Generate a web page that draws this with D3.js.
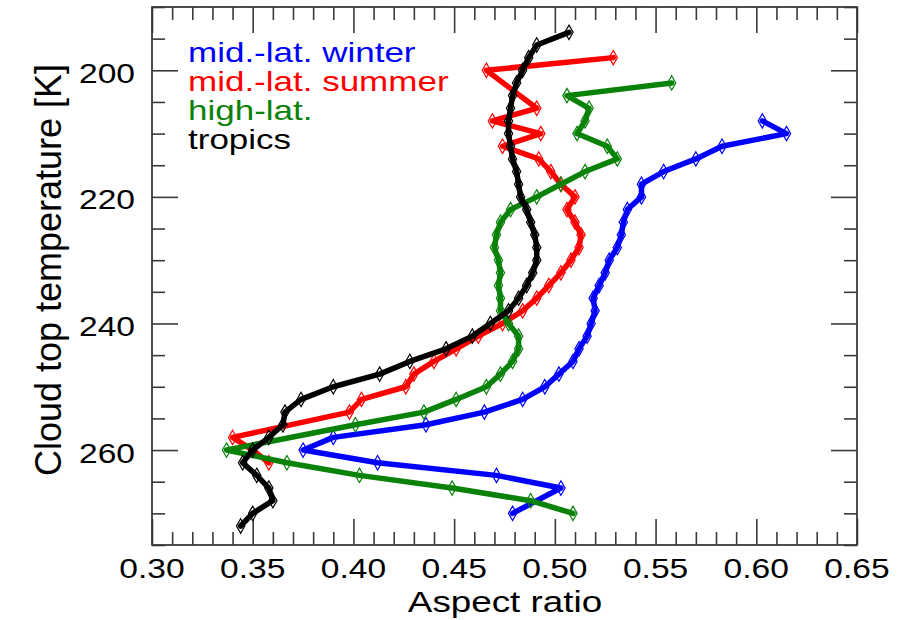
<!DOCTYPE html>
<html>
<head>
<meta charset="utf-8">
<script src="https://cdn.jsdelivr.net/npm/d3@7"></script>
<style>
  body { margin: 0; background: #fff; }
  text { font-family: "Liberation Sans", Arial, Helvetica, sans-serif; }
</style>
</head>
<body>
<div id="chart"></div>
<script>
// cloud top temperature [K] vs aspect ratio, one pair of arrays per region
const winterT  = [208, 210, 212, 214, 216, 218, 220, 222, 224, 226, 228, 230, 232, 234, 236, 238, 240, 242, 244, 246, 248, 250, 252, 254, 256, 258, 260, 262, 264, 266, 270];
const winterAR = [0.603, 0.615, 0.583, 0.570, 0.554, 0.543, 0.543, 0.536, 0.534, 0.533, 0.531, 0.527, 0.525, 0.522, 0.519, 0.520, 0.518, 0.516, 0.512, 0.509, 0.502, 0.495, 0.484, 0.465, 0.436, 0.390, 0.375, 0.412, 0.471, 0.503, 0.479];

const summerT  = [198, 200, 206, 208, 210, 212, 214, 216, 218, 220, 222, 224, 226, 228, 230, 232, 234, 236, 238, 240, 242, 244, 246, 248, 250, 252, 254, 258, 260, 262];
const summerAR = [0.529, 0.466, 0.491, 0.469, 0.493, 0.474, 0.492, 0.498, 0.503, 0.510, 0.506, 0.510, 0.513, 0.512, 0.508, 0.503, 0.497, 0.491, 0.484, 0.474, 0.462, 0.451, 0.440, 0.430, 0.426, 0.404, 0.398, 0.340, 0.350, 0.358];

const highT  = [202, 204, 206, 208, 210, 212, 214, 216, 218, 220, 222, 224, 226, 228, 230, 232, 234, 236, 238, 240, 242, 244, 246, 248, 250, 252, 254, 256, 260, 262, 264, 266, 268, 270];
const highAR = [0.558, 0.506, 0.517, 0.515, 0.511, 0.526, 0.531, 0.515, 0.503, 0.491, 0.478, 0.473, 0.471, 0.470, 0.472, 0.473, 0.472, 0.473, 0.473, 0.477, 0.482, 0.482, 0.479, 0.473, 0.466, 0.451, 0.435, 0.401, 0.337, 0.367, 0.403, 0.449, 0.488, 0.509];

const tropT  = [194, 196, 198, 200, 202, 204, 206, 208, 210, 212, 214, 216, 218, 220, 222, 224, 226, 228, 230, 232, 234, 236, 238, 240, 242, 244, 246, 248, 250, 252, 254, 256, 258, 260, 262, 264, 266, 268, 270, 272];
const tropAR = [0.507, 0.491, 0.487, 0.484, 0.481, 0.479, 0.478, 0.477, 0.477, 0.478, 0.479, 0.481, 0.482, 0.483, 0.486, 0.488, 0.490, 0.491, 0.491, 0.489, 0.486, 0.482, 0.477, 0.468, 0.459, 0.446, 0.428, 0.413, 0.390, 0.374, 0.366, 0.365, 0.358, 0.350, 0.345, 0.352, 0.358, 0.360, 0.350, 0.344];

const seriesNames  = ["mid.-lat. winter", "mid.-lat. summer", "high-lat.", "tropics"];
const seriesColors = ["#0000ff", "#ff0000", "#0a820a", "#000000"];

const xMajor = [0.30, 0.35, 0.40, 0.45, 0.50, 0.55, 0.60, 0.65];
const yMajor = [200, 220, 240, 260];

const W = 918, H = 620;
const pLeft = 152, pRight = 857, pTop = 7, pBottom = 545;

const svg = d3.select("#chart").append("svg")
    .attr("width", W)
    .attr("height", H);

const x = d3.scaleLinear().domain([0.30, 0.65]).range([pLeft, pRight]);
const y = d3.scaleLinear().domain([190, 275]).range([pTop, pBottom]);

const xMinor = d3.range(30, 66).filter(d => d % 5 != 0).map(d => d / 100);
const yMinor = d3.range(190, 276, 5).filter(d => d % 20 != 0);

const axisColor = "#3a3a3a";

function tickAxis(axis, tx, ty) {
    const g = svg.append("g")
        .attr("transform", `translate(${tx},${ty})`)
        .call(axis);
    g.select(".domain").remove();
    g.selectAll("text").remove();
    g.selectAll("line").attr("stroke", axisColor).attr("stroke-width", 1.6);
}

// ticks point inward on all four sides
tickAxis(d3.axisTop(x).tickValues(xMajor).tickSize(26), 0, pBottom);
tickAxis(d3.axisTop(x).tickValues(xMinor).tickSize(13), 0, pBottom);
tickAxis(d3.axisBottom(x).tickValues(xMajor).tickSize(26), 0, pTop);
tickAxis(d3.axisBottom(x).tickValues(xMinor).tickSize(13), 0, pTop);
tickAxis(d3.axisRight(y).tickValues(yMajor).tickSize(26), pLeft, 0);
tickAxis(d3.axisRight(y).tickValues(yMinor).tickSize(13), pLeft, 0);
tickAxis(d3.axisLeft(y).tickValues(yMajor).tickSize(26), pRight, 0);
tickAxis(d3.axisLeft(y).tickValues(yMinor).tickSize(13), pRight, 0);

svg.append("rect")
    .attr("x", pLeft).attr("y", pTop)
    .attr("width", pRight - pLeft).attr("height", pBottom - pTop)
    .attr("fill", "none")
    .attr("stroke", axisColor)
    .attr("stroke-width", 1.8);

// the original font is wider than Liberation Sans, so stretch a little
function label(tx, ty, str, size, anchor, sx, color) {
    svg.append("text")
        .attr("transform", `translate(${tx},${ty}) scale(${sx},1)`)
        .attr("text-anchor", anchor)
        .attr("font-size", size)
        .attr("fill", color || "#000")
        .text(str);
}

xMajor.forEach(d => label(x(d), 578, d3.format(".2f")(d), 28, "middle", 1.2));
yMajor.forEach(d => label(135, y(d) + 12.5, d, 28, "end", 1.2));

label(505, 612, "Aspect ratio", 29, "middle", 1.27);

svg.append("text")
    .attr("transform", "translate(61,270) rotate(-90)")
    .attr("text-anchor", "middle")
    .attr("font-size", 36)
    .text("Cloud top temperature [K]");

// data
const series = [
    winterT.map((t, i) => ({t: t, v: winterAR[i]})),
    summerT.map((t, i) => ({t: t, v: summerAR[i]})),
    highT.map((t, i) => ({t: t, v: highAR[i]})),
    tropT.map((t, i) => ({t: t, v: tropAR[i]}))
];

const line = d3.line()
    .x(d => x(d.v))
    .y(d => y(d.t));

const diamond = d3.symbol().type(d3.symbolDiamond).size(60);

series.forEach((s, k) => {
    const g = svg.append("g");
    g.append("path")
        .datum(s)
        .attr("d", line)
        .attr("fill", "none")
        .attr("stroke", seriesColors[k])
        .attr("stroke-width", 5.5)
        .attr("stroke-linejoin", "round")
        .attr("stroke-linecap", "round");
    g.selectAll(".pt")
        .data(s)
        .enter().append("path")
        .attr("class", "pt")
        .attr("transform", d => `translate(${x(d.v)},${y(d.t)})`)
        .attr("d", diamond)
        .attr("fill", "none")
        .attr("stroke", seriesColors[k])
        .attr("stroke-width", 1.2);
});

// legend
seriesNames.forEach((n, i) => label(188, 62 + i * 29, n, 28, "start", 1.25, seriesColors[i]));
</script>
</body>
</html>
